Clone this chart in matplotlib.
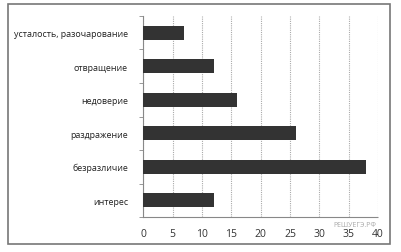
import matplotlib.pyplot as plt
from matplotlib.patches import Rectangle

# Data (bottom to top)
categories = ["интерес", "безразличие", "раздражение", "недоверие",
              "отвращение", "усталость, разочарование"]
values = [12, 38, 26, 16, 12, 7]
xticks = [0, 5, 10, 15, 20, 25, 30, 35, 40]

plt.rcParams['font.family'] = ['Open Sans', 'DejaVu Sans']

fig = plt.figure(figsize=(4.01, 2.53), dpi=100)
ax = fig.add_axes([0.357, 0.138, 0.586, 0.795])

y = list(range(len(categories)))
ax.barh(y, values, height=0.42, color='#333333', zorder=3)

ax.set_xlim(0, 40)
ax.set_ylim(-0.5, len(categories) - 0.5)
ax.set_xticks(xticks)
ax.set_yticks(y)
ax.set_yticklabels(categories, fontsize=6.4, color='#222222')
ax.tick_params(axis='x', labelsize=7.5, colors='#333333', length=0, pad=8)
ax.tick_params(axis='y', length=0, pad=11)

# minor ticks between categories on y axis
ax.set_yticks([i + 0.5 for i in range(-1, len(categories))], minor=True)
ax.tick_params(axis='y', which='minor', length=3, color='#888888', direction='out')

ax.grid(axis='x', color='#aaaaaa', linestyle=(0, (1, 1)), linewidth=0.8, zorder=0)
for s in ['top', 'right']:
    ax.spines[s].set_visible(False)
ax.spines['left'].set_color('#888888')
ax.spines['left'].set_linestyle((0, (1, 1)))
ax.spines['bottom'].set_color('#888888')
ax.spines['bottom'].set_linestyle((0, (1, 1)))

# outer frame
fig.patches.append(Rectangle((8 / 401, 1 - 245 / 253), 382 / 401, 240 / 253,
                             transform=fig.transFigure, fill=False,
                             edgecolor='#777777', linewidth=1.2))

fig.text(355 / 401, 1 - 226 / 253, "РЕШУЕГЭ.РФ", fontsize=5, color='#aaaaaa',
         ha='center', va='center')

fig.savefig("out.png", dpi=100)
